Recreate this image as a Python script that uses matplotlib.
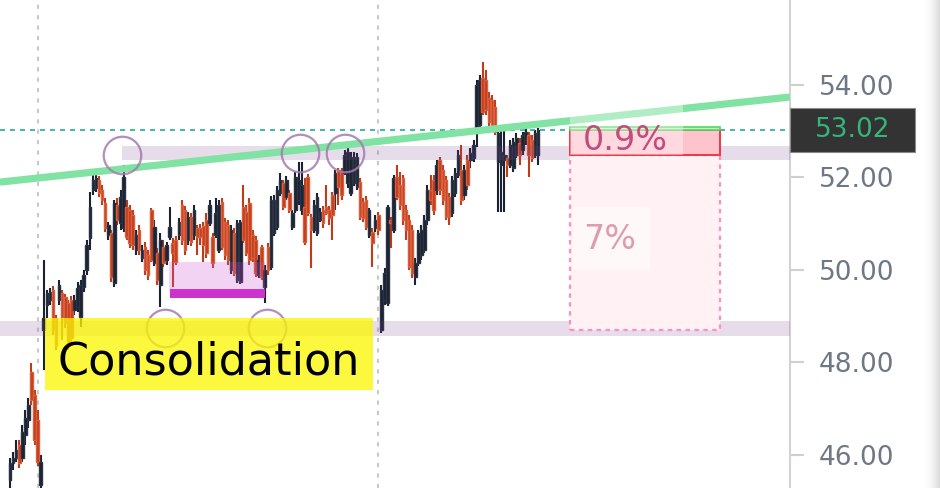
import matplotlib
matplotlib.use("Agg")
import matplotlib.pyplot as plt
import matplotlib.transforms as mtransforms
from matplotlib.patches import Rectangle
from matplotlib.colors import LinearSegmentedColormap
import numpy as np

################################################################################
# data ----
################################################################################

# daily candles (segments: drop, gap, range, rally, spike)
opens = [
    45.46, 45.83, 45.93, 46.22, 45.93, 46.43, 46.76, 47.79, 47.30, 46.76, 45.35,
    48.70, 49.24, 49.35, 49.57, 48.96, 49.35, 49.50, 49.42, 49.29, 49.35, 49.14, 49.20, 48.98, 49.63, 50.00, 50.69, 51.73, 51.77,
    51.95, 51.73, 51.45, 50.76, 50.80, 49.72, 51.41, 51.02, 50.91, 51.36, 51.30, 51.19, 50.43, 50.86, 50.26, 50.50, 50.32, 51.30, 50.15, 50.37, 49.68, 50.50, 50.22, 50.71, 50.58, 50.65, 50.76, 51.41, 51.30,
    50.65, 51.15, 50.76, 50.91, 50.91, 50.95, 51.08, 51.02, 50.71, 50.76, 50.43, 51.47, 51.04, 50.97, 50.00, 50.80, 49.78, 49.74, 51.36, 51.25, 51.45, 50.76, 50.65, 49.89, 50.50, 49.63, 50.50, 50.06, 50.80, 50.93, 51.66, 51.88,
    51.58, 51.66, 50.93, 51.30, 51.51, 51.30, 51.36, 52.01, 51.15, 50.86, 50.80, 51.08, 51.30, 51.36, 51.30, 51.62, 51.66, 52.16, 52.12, 52.10, 51.88, 51.66, 51.88, 51.79, 51.90, 51.47, 51.51, 50.76, 50.82, 50.91, 51.19,
    48.70, 49.35, 49.29, 51.08, 50.86, 52.01, 51.84, 51.99, 51.30, 51.08, 50.86, 49.85, 50.15, 50.32, 50.43, 51.08, 51.73, 51.95, 51.73, 52.38, 52.16, 51.95, 51.58, 51.23, 51.66, 52.05, 52.16, 51.62, 52.38, 52.38, 52.42,
    53.07, 53.14, 54.15, 54.11, 53.72, 53.68, 53.52, 52.34, 52.27, 52.38, 52.42, 52.27, 52.21, 52.49, 52.75, 52.59, 52.81, 52.92, 52.81, 52.49, 52.49,
]
highs = [
    45.93, 46.06, 46.32, 46.32, 46.65, 46.97, 47.23, 47.99, 47.41, 46.97, 46.00,
    50.22, 49.57, 49.61, 49.65, 49.03, 49.78, 49.57, 49.48, 49.35, 49.44, 49.46, 49.74, 49.78, 50.00, 50.65, 51.69, 52.05, 52.12,
    52.03, 51.84, 51.56, 51.04, 50.86, 51.51, 51.56, 51.73, 52.27, 51.51, 51.41, 51.30, 50.86, 50.97, 50.54, 50.61, 50.43, 51.34, 51.08, 50.48, 50.80, 50.65, 50.61, 51.36, 50.69, 50.74, 51.12, 51.51, 51.38,
    51.25, 51.23, 51.41, 50.97, 50.99, 51.04, 51.23, 51.51, 50.80, 51.56, 51.51, 51.56, 51.12, 51.08, 50.97, 50.91, 51.08, 51.08, 51.84, 51.41, 51.56, 50.86, 50.74, 50.32, 50.54, 50.11, 50.58, 51.60, 51.62, 51.82, 52.10, 51.95,
    52.03, 51.73, 51.30, 52.12, 52.34, 52.34, 51.99, 52.08, 51.21, 51.51, 51.66, 51.34, 51.38, 51.84, 51.38, 51.69, 52.16, 52.21, 52.21, 52.59, 52.64, 52.55, 52.55, 52.53, 51.99, 51.56, 51.60, 51.34, 50.91, 51.19, 51.25,
    49.68, 50.04, 51.41, 51.15, 52.05, 52.27, 52.12, 52.05, 51.41, 51.19, 50.97, 50.26, 50.86, 50.97, 51.19, 51.84, 52.05, 52.05, 52.38, 52.44, 52.27, 52.03, 51.66, 52.03, 52.21, 52.59, 52.70, 52.27, 52.49, 52.64, 52.81,
    54.11, 54.22, 54.50, 54.32, 53.85, 53.78, 53.68, 53.07, 53.07, 53.07, 52.49, 52.81, 52.85, 52.96, 52.85, 52.98, 53.07, 52.98, 52.92, 53.03, 53.07,
]
lows = [
    45.20, 45.68, 45.85, 45.72, 45.85, 46.22, 46.58, 47.08, 46.22, 45.76, 45.20,
    47.84, 48.96, 49.24, 48.59, 48.27, 49.24, 48.49, 48.75, 48.27, 48.44, 49.03, 49.09, 48.77, 49.52, 49.89, 50.43, 51.62, 51.69,
    51.58, 51.41, 50.82, 50.65, 49.74, 49.63, 50.97, 50.86, 50.82, 50.65, 50.48, 50.43, 50.32, 50.32, 50.17, 49.89, 49.78, 50.17, 50.09, 49.68, 49.20, 50.06, 50.11, 50.65, 49.63, 50.11, 50.65, 50.54, 50.32,
    50.54, 50.52, 50.65, 50.32, 50.54, 50.17, 50.26, 50.95, 50.04, 50.69, 50.37, 50.43, 50.22, 50.11, 49.91, 49.87, 49.72, 49.70, 50.58, 50.30, 50.11, 50.17, 49.85, 49.83, 49.78, 49.29, 49.89, 50.00, 50.74, 50.86, 51.60, 51.30,
    51.51, 51.23, 50.86, 51.23, 51.41, 51.19, 50.54, 51.17, 50.04, 50.80, 50.74, 51.04, 50.91, 51.19, 50.97, 50.65, 51.30, 51.41, 51.51, 52.05, 51.77, 51.60, 51.82, 51.73, 51.08, 51.04, 50.86, 50.69, 50.06, 50.82, 50.76,
    48.64, 49.24, 49.22, 50.48, 50.80, 51.51, 51.30, 50.97, 50.65, 50.00, 49.83, 49.68, 50.09, 50.22, 50.37, 50.97, 51.41, 51.19, 51.62, 51.62, 51.41, 51.08, 50.97, 51.15, 51.58, 51.99, 51.41, 51.51, 51.73, 52.21, 52.34,
    52.66, 53.03, 53.35, 53.35, 53.11, 53.03, 52.92, 51.25, 51.25, 51.25, 52.01, 52.21, 52.12, 52.42, 52.27, 52.49, 52.70, 52.01, 52.34, 52.42, 52.27,
]
closes = [
    45.83, 45.93, 46.11, 45.83, 46.50, 46.80, 47.08, 47.19, 46.32, 45.85, 45.85,
    48.96, 49.50, 49.52, 48.70, 48.38, 49.68, 48.98, 48.85, 48.38, 48.53, 49.35, 49.61, 49.68, 49.89, 50.54, 51.36, 51.95, 51.99,
    51.66, 51.51, 50.91, 50.97, 49.85, 51.45, 51.08, 51.58, 52.01, 50.71, 50.58, 50.54, 50.76, 50.43, 50.43, 50.00, 49.89, 50.22, 50.93, 49.78, 50.65, 50.15, 50.54, 50.93, 50.37, 50.17, 51.04, 50.65, 50.43,
    51.15, 50.61, 51.30, 50.71, 50.71, 50.54, 50.37, 51.41, 50.15, 51.23, 51.41, 50.50, 50.32, 50.22, 50.86, 49.94, 51.02, 51.04, 50.65, 50.37, 50.22, 50.26, 49.94, 50.22, 49.85, 50.00, 50.00, 51.51, 51.51, 51.73, 51.95, 51.36,
    51.95, 51.30, 51.23, 52.01, 51.95, 51.84, 50.61, 51.23, 50.86, 51.41, 51.58, 51.25, 51.02, 51.23, 51.12, 51.19, 52.10, 51.79, 51.62, 52.49, 52.55, 52.44, 52.44, 52.44, 51.15, 51.12, 50.93, 51.30, 50.58, 51.08, 50.86,
    49.57, 49.94, 51.36, 51.02, 51.99, 51.58, 51.41, 51.08, 50.86, 50.06, 49.94, 50.15, 50.80, 50.86, 51.08, 51.73, 51.51, 51.30, 52.27, 51.73, 51.51, 51.15, 51.15, 51.95, 52.10, 52.49, 51.51, 52.16, 51.84, 52.53, 52.70,
    54.00, 54.11, 53.42, 53.46, 53.20, 53.14, 52.98, 52.96, 52.55, 52.49, 52.27, 52.70, 52.77, 52.85, 52.49, 52.92, 52.98, 52.49, 52.42, 52.96, 53.02,
]

last_price = 53.02
price_ticks = [46, 48, 50, 52, 54]

# drawings on the chart (bar index, price)
month_lines = [9.1, 119.9]
trend_x = [-3.3, 254.1]
trend_y = [51.90, 53.74]
touch_x = [36.5, 94.5, 109.1, 50.5, 83.7]
touch_y = [52.49, 52.53, 52.53, 48.75, 48.75]
resistance_zone = (36.5, 52.37, 52.68)
support_zone = (-3.3, 48.57, 48.90)
base_box = (51.8, 83.1, 49.57, 50.17)
base_bar = (52.1, 83.1, 49.39, 49.59)
label_box = (11.4, 118.2, 47.41, 48.96)
pos_left, pos_right = 182.4, 231.3
pos_target, pos_entry, pos_mid, pos_stop = 53.10, 53.02, 52.49, 48.70

################################################################################
# plot ----
################################################################################

o = np.array(opens)
h = np.array(highs)
l = np.array(lows)
c = np.array(closes)
idx = np.arange(len(c))

fig = plt.figure(figsize=(9.49, 4.88), dpi=100)
ax = fig.add_axes([0, 0, 790 / 949, 1])
ax.set_xlim(-3.26, 254.1)
ax.set_ylim(45.286, 55.838)

up_col, dn_col = '#1a2130', '#c23a18'
up = c >= o
colors = np.where(up, up_col, dn_col)
ax.vlines(idx, l, h, colors=colors, lw=1.5, zorder=2)
ax.bar(idx, np.maximum(np.abs(c - o), 0.05), bottom=np.minimum(o, c), width=0.85,
       color=colors, edgecolor=np.where(up, '#2a3444', '#d9603f'), linewidth=1.0, zorder=2)

# grid
for m in month_lines:
    ax.axvline(m, color='#c9c9c9', lw=1.5, ls=(0, (2, 3)), zorder=1)

# zones
ax.add_patch(Rectangle((resistance_zone[0], resistance_zone[1]), 300, resistance_zone[2] - resistance_zone[1],
                       facecolor='#7b3f8c', alpha=0.18, edgecolor='none', zorder=3))
ax.add_patch(Rectangle((support_zone[0], support_zone[1]), 300, support_zone[2] - support_zone[1],
                       facecolor='#7b3f8c', alpha=0.18, edgecolor='none', zorder=3))
ax.add_patch(Rectangle((base_box[0], base_box[2]), base_box[1] - base_box[0], base_box[3] - base_box[2],
                       facecolor='#d050d0', alpha=0.25, edgecolor='none', zorder=3))
ax.add_patch(Rectangle((base_bar[0], base_bar[2]), base_bar[1] - base_bar[0], base_bar[3] - base_bar[2],
                       facecolor='#cc33cc', edgecolor='none', zorder=3))

# trend line and price line
ax.plot(trend_x, trend_y, color='#80e3a3', lw=5.2, solid_capstyle='butt', zorder=3.5)
ax.axhline(last_price, color='#22ab94', lw=1.2, ls=(0, (3, 3)), zorder=3)

# touch circles
ax.plot(touch_x, touch_y, 'o', ms=27, mfc='none', mec='#a47bb0', mew=1.6, alpha=0.85, zorder=4)

# position tool
pw = pos_right - pos_left
ax.add_patch(Rectangle((pos_left, pos_stop), pw, pos_mid - pos_stop, facecolor='#fff1f4',
                       edgecolor='#ff8fc0', lw=1.6, ls=(0, (2, 2)), zorder=3.6))
ax.add_patch(Rectangle((pos_left, pos_mid), pw, pos_entry - pos_mid, facecolor='#ffc3cd',
                       edgecolor='#f23645', lw=1.4, zorder=3.7))
ax.add_patch(Rectangle((pos_left, pos_entry), pw, pos_target - pos_entry, facecolor='#c8f5c8',
                       edgecolor='#52d85c', lw=1.2, zorder=3.7))
ax.add_patch(Rectangle((pos_left, pos_mid), 36.8, 1.3, facecolor='white', alpha=0.38,
                       edgecolor='none', zorder=3.8))
ax.add_patch(Rectangle((pos_left + 1.0, 50.0), 25.1, 1.36, facecolor='white', alpha=0.5,
                       edgecolor='none', zorder=3.8))
ax.text(pos_left + 4.2, 52.80, '0.9%', fontsize=24, color='#c24c7c', va='center', ha='left', zorder=4)
ax.text(pos_left + 4.2, 50.65, '7%', fontsize=24, color='#dd9dae', va='center', ha='left', zorder=4)

# consolidation label
ax.add_patch(Rectangle((label_box[0], label_box[2]), label_box[1] - label_box[0], label_box[3] - label_box[2],
                       facecolor='#fbf700', alpha=0.76, edgecolor='none', zorder=4.5))
ax.text((label_box[0] + label_box[1]) / 2, 47.75, 'Consolidation', fontsize=32, color='black',
        ha='center', va='baseline', zorder=5)

# price axis
for s in ['left', 'top', 'bottom']:
    ax.spines[s].set_visible(False)
ax.spines['right'].set_color('#d3d3d3')
ax.spines['right'].set_linewidth(1.5)
ax.set_xticks([])
ax.yaxis.tick_right()
ax.set_yticks(price_ticks)
ax.set_yticklabels(['%.2f' % t for t in price_ticks])
ax.tick_params(axis='y', length=10, width=1.5, color='#cfcfcf', labelsize=19,
               labelcolor='#6f7785', pad=11)

# top tick label, cut by the frame like in the screenshot
trans = mtransforms.blended_transform_factory(ax.transAxes, ax.transData)
ax.text(1 + 32 / 790, 56, '56.00', transform=trans, fontsize=19, color='#6f7785',
        va='center', ha='left', clip_on=False)
ax.add_patch(Rectangle((1.0, last_price - 0.476), 125 / 790, 0.952, transform=trans,
                       facecolor='#333333', edgecolor='#8a8a8a', lw=0.8, clip_on=False, zorder=6))
ax.text(1 + 62.5 / 790, last_price, '%.2f' % last_price, transform=trans, fontsize=19,
        color='#33b57b', ha='center', va='center', clip_on=False, zorder=7)

# soft shadow at the right edge
sh = fig.add_axes([922 / 949, 0, 18 / 949, 1])
cmap = LinearSegmentedColormap.from_list('sh', ['#ffffff', '#dadada'])
sh.imshow(np.linspace(0, 1, 50)[None, :] ** 2, aspect='auto', cmap=cmap, extent=[0, 1, 0, 1])
sh.axis('off')

fig.savefig('out.png', dpi=100)
